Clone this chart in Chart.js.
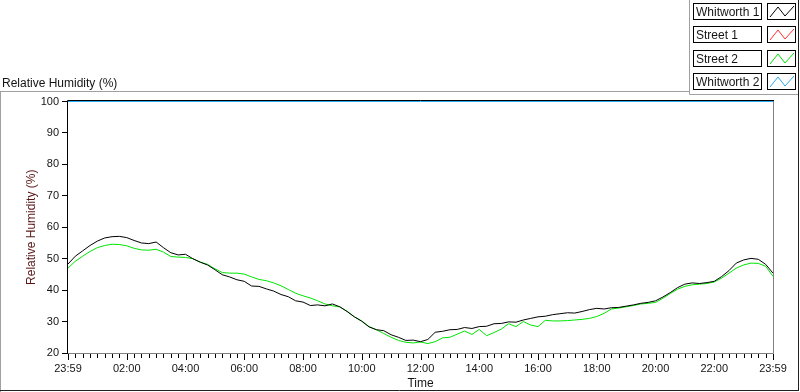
<!doctype html>
<html lang="en">
<head>
    <meta charset="utf-8">
    <title>Relative Humidity (%)</title>
    <style>
        body { margin: 0; background: #ffffff; }
        canvas { display: block; }
    </style>
</head>
<body>
    <canvas id="myChart" width="800" height="392"></canvas>

    <script src="https://cdn.jsdelivr.net/npm/chart.js"></script>
    <script>
        // minutes after 23:59 (one reading every 15 min)
        var minutes = [0,15,30,45,60,75,90,105,120,135,150,165,180,195,210,225,240,255,270,285,
            300,315,330,345,360,375,390,405,420,435,450,465,480,495,510,525,540,555,570,585,
            600,615,630,645,660,675,690,705,720,735,750,765,780,795,810,825,840,855,870,885,
            900,915,930,945,960,975,990,1005,1020,1035,1050,1065,1080,1095,1110,1125,1140,1155,1170,1185,
            1200,1215,1230,1245,1260,1275,1290,1305,1320,1335,1350,1365,1380,1395,1410,1425,1440];

        var whitworth1 = [48.3,50.8,52.5,54.2,55.6,56.6,57.0,57.1,56.7,55.8,55.0,54.8,55.3,53.5,51.9,51.2,51.4,50.0,48.9,48.0,
            46.5,44.9,44.2,43.3,42.8,41.3,41.2,40.4,39.7,38.6,37.9,36.6,36.2,35.1,35.3,35.0,35.6,34.7,33.2,31.5,
            30.1,28.3,27.4,27.1,25.8,25.0,24.0,24.1,23.6,24.3,26.6,26.9,27.4,27.5,28.1,27.8,28.4,28.5,29.3,29.4,
            29.9,29.8,30.5,31.0,31.5,31.7,32.2,32.5,32.8,32.7,33.2,33.8,34.2,34.0,34.4,34.5,34.9,35.3,35.8,36.1,
            36.6,37.8,39.2,40.8,41.9,42.3,42.1,42.4,42.8,44.3,46.2,48.6,49.6,50.1,49.8,48.2,45.4];

        var street1 = [];

        var street2 = [47.0,49.2,50.8,52.3,53.5,54.2,54.6,54.5,54.1,53.3,52.8,52.7,53.0,52.1,50.7,50.5,50.4,50.0,48.9,48.2,
            46.8,45.6,45.4,45.4,45.1,44.2,43.4,43.0,42.3,41.4,40.2,39.0,38.2,37.5,36.6,35.6,35.0,34.7,33.3,31.5,
            30.2,28.4,27.4,26.2,25.0,24.0,23.4,23.2,23.5,23.0,23.6,24.8,25.0,26.0,27.0,25.9,27.5,25.5,26.5,27.6,
            29.3,28.4,30.0,28.9,28.4,30.4,30.2,30.2,30.3,30.5,30.7,31.0,31.6,32.6,34.0,34.3,34.7,35.1,35.6,35.8,
            36.1,37.4,38.9,40.3,41.2,41.7,41.9,42.1,42.6,43.8,45.4,47.0,48.0,48.6,48.5,47.6,44.4];

        // Whitworth 2 sits on the top of the scale all day
        var whitworth2Times = [0, 1440];
        var whitworth2 = [100, 100];

        var seriesNames = ['Whitworth 1', 'Street 1', 'Street 2', 'Whitworth 2'];
        var seriesColors = ['#000000', '#ff3030', '#00e600', '#29a8f0'];

        var xMajor = [0,120,240,360,480,600,720,840,960,1080,1200,1320,1440];
        var xTickLabels = ['23:59','02:00','04:00','06:00','08:00','10:00','12:00','14:00','16:00','18:00','20:00','22:00','23:59'];

        function points(xs, ys) {
            return ys.map(function (v, i) { return { x: xs[i], y: v }; });
        }

        var txt = '#141414';

        var framePlugin = {
            id: 'frame',
            beforeDraw: function (chart) {
                var c = chart.ctx;
                c.save();
                c.fillStyle = '#ffffff';
                c.fillRect(0, 0, chart.width, chart.height);
                c.restore();
            },
            beforeDatasetsDraw: function (chart) {
                var c = chart.ctx, a = chart.chartArea;
                var top = Math.floor(a.top) - 0.5;
                c.save();
                c.lineWidth = 1;
                c.strokeStyle = '#808080';
                c.beginPath();
                c.moveTo(a.right + 0.5, top);
                c.lineTo(a.right + 0.5, a.bottom + 0.5);
                c.lineTo(a.left - 1, a.bottom + 0.5);
                c.stroke();
                c.strokeStyle = '#000000';
                c.beginPath();
                c.moveTo(a.left - 0.5, a.bottom + 1);
                c.lineTo(a.left - 0.5, top);
                c.lineTo(a.right + 1, top);
                c.stroke();
                c.restore();
            },
            afterDraw: function (chart) {
                var c = chart.ctx, a = chart.chartArea;
                var xs = chart.scales.x, ys = chart.scales.y;
                c.save();
                c.lineWidth = 1;

                // tick marks
                c.strokeStyle = '#000000';
                c.beginPath();
                ys.ticks.forEach(function (t) {
                    var py = Math.floor(ys.getPixelForValue(t.value)) + 0.5;
                    c.moveTo(a.left - 6, py);
                    c.lineTo(a.left - 1, py);
                });
                for (var m = 0; m <= 1440; m += 15) {
                    var px = Math.round(xs.getPixelForValue(m)) + 0.5;
                    var len = (m % 120 === 0 || m === 1440) ? 6 : 4;
                    c.moveTo(px, a.bottom + 1);
                    c.lineTo(px, a.bottom + 1 + len);
                }
                c.stroke();

                // outer frame
                c.strokeStyle = '#a0a0a0';
                c.beginPath();
                c.moveTo(0, 91.5); c.lineTo(690, 91.5);
                c.moveTo(0.5, 91); c.lineTo(0.5, 392);
                c.moveTo(689.5, 0); c.lineTo(689.5, 94.5); c.lineTo(798, 94.5);
                c.stroke();
                c.strokeStyle = '#202020';
                c.beginPath();
                c.moveTo(0, 390.5); c.lineTo(799, 390.5);
                c.moveTo(798.5, 0); c.lineTo(798.5, 391);
                c.stroke();

                // graph caption
                c.fillStyle = txt;
                c.font = '12px "Liberation Sans", Arial, sans-serif';
                c.textBaseline = 'alphabetic';
                c.textAlign = 'left';
                c.fillText('Relative Humidity (%)', 2, 87);

                // plot legend
                chart.data.datasets.forEach(function (ds, k) {
                    var top = 3 + Math.round(k * 23.3);
                    c.fillStyle = '#ffffff';
                    c.fillRect(693, top, 68, 17);
                    c.fillRect(767, top, 29, 17);
                    c.strokeStyle = '#000000';
                    c.strokeRect(693.5, top + 0.5, 68, 16);
                    c.strokeRect(767.5, top + 0.5, 28, 16);
                    c.fillStyle = txt;
                    c.fillText(ds.label, 696, top + 13);
                    c.strokeStyle = ds.borderColor;
                    c.beginPath();
                    c.moveTo(770, top + 14);
                    c.lineTo(778, top + 4);
                    c.lineTo(785, top + 13);
                    c.lineTo(794, top + 3);
                    c.stroke();
                });
                c.restore();
            }
        };

        var datasets = [
            { label: seriesNames[0], data: points(minutes, whitworth1) },
            { label: seriesNames[1], data: points(minutes, street1) },
            { label: seriesNames[2], data: points(minutes, street2) },
            { label: seriesNames[3], data: points(whitworth2Times, whitworth2) }
        ].map(function (d, i) {
            d.borderColor = seriesColors[i];
            d.backgroundColor = seriesColors[i];
            d.borderWidth = 1;
            d.pointRadius = 0;
            d.tension = 0;
            d.fill = false;
            d.clip = 3;
            return d;
        });

        new Chart('myChart', {
            type: 'line',
            data: { datasets: datasets },
            options: {
                responsive: false,
                animation: false,
                events: [],
                layout: { padding: { top: 101.5, right: 27, left: 0, bottom: 0 } },
                plugins: { legend: { display: false }, tooltip: { enabled: false } },
                scales: {
                    x: {
                        type: 'linear',
                        min: 0,
                        max: 1440,
                        afterBuildTicks: function (scale) {
                            scale.ticks = xMajor.map(function (v) { return { value: v }; });
                        },
                        afterFit: function (scale) { scale.height = 39; },
                        grid: { display: true, drawOnChartArea: false, drawTicks: true, tickLength: 6, tickColor: 'rgba(0,0,0,0)' },
                        border: { display: false },
                        ticks: {
                            autoSkip: false,
                            maxRotation: 0,
                            padding: 3,
                            color: txt,
                            font: { family: '"Liberation Sans", Arial, sans-serif', size: 11 },
                            callback: function (v, i) { return xTickLabels[i]; }
                        },
                        title: {
                            display: true,
                            text: 'Time',
                            color: txt,
                            padding: { top: 0, bottom: 1 },
                            font: { family: '"Liberation Sans", Arial, sans-serif', size: 12 }
                        }
                    },
                    y: {
                        min: 20,
                        max: 100,
                        afterFit: function (scale) { scale.width = 68; },
                        grid: { display: true, drawOnChartArea: false, drawTicks: true, tickLength: 6, tickColor: 'rgba(0,0,0,0)' },
                        border: { display: false },
                        ticks: {
                            stepSize: 10,
                            padding: 3,
                            color: txt,
                            font: { family: '"Liberation Sans", Arial, sans-serif', size: 11 }
                        },
                        title: {
                            display: true,
                            text: 'Relative Humidity (%)',
                            color: '#5a1515',
                            padding: { top: 24, bottom: 0 },
                            font: { family: '"Liberation Sans", Arial, sans-serif', size: 12 }
                        }
                    }
                }
            },
            plugins: [framePlugin]
        });
    </script>
</body>
</html>
